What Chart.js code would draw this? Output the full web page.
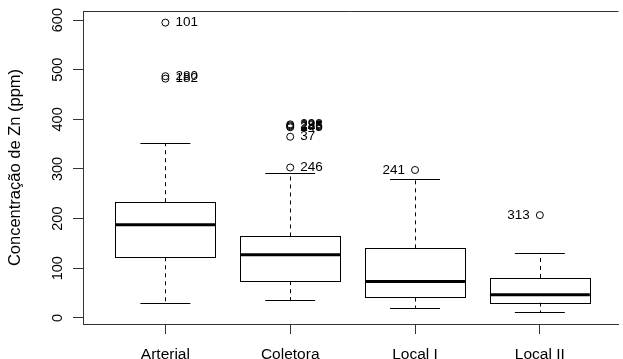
<!DOCTYPE html>
<html>
<head>
<meta charset="utf-8">
<script src="https://cdn.jsdelivr.net/npm/chart.js@4.4.1/dist/chart.umd.min.js"></script>
<style>
  html, body { margin: 0; padding: 0; background: #fff; }
  #wrap { width: 623px; height: 359px; }
</style>
</head>
<body>
<div id="wrap"><canvas id="myChart" width="623" height="359"></canvas></div>
<script>
// categorias e estatísticas das caixas (ppm)
var categorias = ['Arterial', 'Coletora', 'Local I', 'Local II'];
var limiteInferior = [29, 35, 20, 11];
var quartil1 = [122, 74, 41, 31];
var mediana = [187.5, 127, 73.5, 46.5];
var quartil3 = [233, 164, 140, 80.5];
var limiteSuperior = [352, 292, 280, 131];

// pontos discrepantes
var outlierGrupo = [1, 1, 1, 2, 2, 2, 2, 2, 2, 3, 4];
var outlierValor = [595, 487, 482, 390, 388, 386, 384, 365, 303, 298, 207];
var outlierRotulo = ['101', '280', '182', '298', '288', '285', '245', '37', '246', '241', '313'];

var yTicks = [0, 100, 200, 300, 400, 500, 600];

var fonte = 'Liberation Sans, Arial, Helvetica, sans-serif';

var pontos = outlierValor.map(function (v, i) {
    return { x: outlierGrupo[i], y: v };
});

var boxplotPlugin = {
    id: 'boxplot',
    beforeDatasetsDraw: function (chart) {
        var ctx = chart.ctx;
        var xs = chart.scales.x, ys = chart.scales.y;
        var area = chart.chartArea;
        ctx.save();
        // moldura (topo)
        ctx.strokeStyle = '#333';
        ctx.lineWidth = 1;
        ctx.beginPath();
        ctx.moveTo(area.left, Math.round(area.top) + 0.5);
        ctx.lineTo(area.right, Math.round(area.top) + 0.5);
        ctx.stroke();

        categorias.forEach(function (c, i) {
            var cx = xs.getPixelForValue(i + 1);
            var meia = xs.getPixelForValue(i + 1.4) - cx;
            var cap = xs.getPixelForValue(i + 1.2) - cx;
            var yLo = ys.getPixelForValue(limiteInferior[i]);
            var yQ1 = ys.getPixelForValue(quartil1[i]);
            var yMed = ys.getPixelForValue(mediana[i]);
            var yQ3 = ys.getPixelForValue(quartil3[i]);
            var yHi = ys.getPixelForValue(limiteSuperior[i]);

            ctx.strokeStyle = '#000';
            ctx.lineWidth = 1;
            // bigodes tracejados
            ctx.setLineDash([4, 4]);
            ctx.beginPath();
            ctx.moveTo(Math.round(cx) + 0.5, yQ3);
            ctx.lineTo(Math.round(cx) + 0.5, yHi);
            ctx.moveTo(Math.round(cx) + 0.5, yQ1);
            ctx.lineTo(Math.round(cx) + 0.5, yLo);
            ctx.stroke();
            ctx.setLineDash([]);
            // extremos
            ctx.beginPath();
            ctx.moveTo(cx - cap, Math.round(yHi) + 0.5);
            ctx.lineTo(cx + cap, Math.round(yHi) + 0.5);
            ctx.moveTo(cx - cap, Math.round(yLo) + 0.5);
            ctx.lineTo(cx + cap, Math.round(yLo) + 0.5);
            ctx.stroke();
            // caixa
            ctx.fillStyle = '#fff';
            ctx.fillRect(cx - meia, yQ3, meia * 2, yQ1 - yQ3);
            ctx.strokeRect(Math.round(cx - meia) + 0.5, Math.round(yQ3) + 0.5,
                Math.round(meia * 2), Math.round(yQ1 - yQ3));
            // mediana
            ctx.lineWidth = 3;
            ctx.beginPath();
            ctx.moveTo(cx - meia, yMed);
            ctx.lineTo(cx + meia, yMed);
            ctx.stroke();
        });
        ctx.restore();
    },
    afterDatasetsDraw: function (chart) {
        var ctx = chart.ctx;
        var xs = chart.scales.x, ys = chart.scales.y;
        ctx.save();
        ctx.fillStyle = '#000';
        ctx.font = '13.5px ' + fonte;
        ctx.textBaseline = 'middle';
        outlierValor.forEach(function (v, i) {
            var px = xs.getPixelForValue(outlierGrupo[i]);
            var py = ys.getPixelForValue(v);
            if (outlierGrupo[i] <= 2) {
                ctx.textAlign = 'left';
                ctx.fillText(outlierRotulo[i], px + 10, py);
            } else {
                ctx.textAlign = 'right';
                ctx.fillText(outlierRotulo[i], px - 10, py);
            }
        });
        ctx.restore();
    }
};

var ctx = document.getElementById('myChart').getContext('2d');
var grafico = new Chart(ctx, {
    type: 'scatter',
    data: {
        datasets: [{
            data: pontos,
            pointStyle: 'circle',
            pointRadius: 3.5,
            pointHoverRadius: 3.5,
            borderColor: '#000',
            borderWidth: 1,
            backgroundColor: 'rgba(0,0,0,0)'
        }]
    },
    options: {
        responsive: false,
        animation: false,
        layout: { padding: { top: 11, right: 0, left: 0, bottom: 0 } },
        plugins: {
            legend: { display: false },
            tooltip: { enabled: false }
        },
        scales: {
            x: {
                type: 'linear',
                min: 0.34,
                max: 4.63,
                afterBuildTicks: function (axis) {
                    axis.ticks = categorias.map(function (c, i) { return { value: i + 1 }; });
                },
                afterFit: function (axis) {
                    axis.height = 35;
                    axis.paddingLeft = 0;
                    axis.paddingRight = 0;
                },
                ticks: {
                    autoSkip: false,
                    maxRotation: 0,
                    minRotation: 0,
                    padding: 11,
                    color: '#000',
                    font: { family: fonte, size: 15.5 },
                    callback: function (v) { return categorias[v - 1]; }
                },
                grid: { drawOnChartArea: false, drawTicks: true, tickLength: 10, color: '#333' },
                border: { display: true, color: '#333' }
            },
            y: {
                min: -12.4,
                max: 618.4,
                afterBuildTicks: function (axis) {
                    axis.ticks = yTicks.map(function (v) { return { value: v }; });
                },
                afterFit: function (axis) {
                    axis.width = 83;
                    axis.paddingTop = 0;
                    axis.paddingBottom = 0;
                },
                ticks: {
                    minRotation: 90,
                    maxRotation: 90,
                    crossAlign: 'center',
                    padding: 3,
                    color: '#000',
                    font: { family: fonte, size: 14.5 }
                },
                grid: { drawOnChartArea: false, drawTicks: true, tickLength: 10, color: '#333' },
                border: { display: true, color: '#333' },
                title: {
                    display: true,
                    text: 'Concentração de Zn (ppm)',
                    color: '#000',
                    font: { family: fonte, size: 16.5 },
                    padding: { top: 6, bottom: 0 }
                }
            }
        }
    },
    plugins: [boxplotPlugin]
});
</script>
</body>
</html>
